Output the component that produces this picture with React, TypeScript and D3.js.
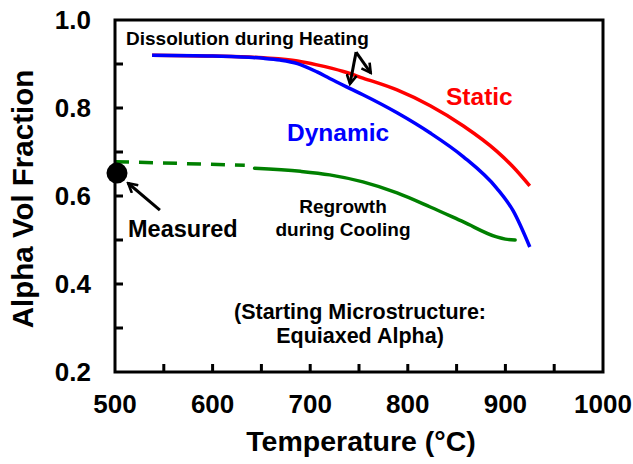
import * as d3 from 'd3';

// curves
const staticTemp = [538, 600, 652, 687, 707, 734, 754, 789, 823, 857, 891, 908, 925];
const staticAlpha = [0.92, 0.918, 0.914, 0.907, 0.898, 0.883, 0.868, 0.841, 0.805, 0.759, 0.702, 0.666, 0.623];

const dynamicTemp = [538, 600, 652, 669, 687, 707, 720, 741, 754, 789, 823, 857, 891, 908, 925];
const dynamicAlpha = [0.92, 0.918, 0.913, 0.909, 0.901, 0.882, 0.867, 0.844, 0.83, 0.789, 0.743, 0.689, 0.618, 0.566, 0.484];

const regrowthTemp = [643, 690, 720, 754, 789, 823, 857, 891, 900, 910];
const regrowthAlpha = [0.663, 0.656, 0.648, 0.632, 0.607, 0.575, 0.541, 0.507, 0.502, 0.5];

const extrapTemp = [500, 633];
const extrapAlpha = [0.678, 0.67];

const measuredTemp = [500];
const measuredAlpha = [0.652];

const xTicks = [500, 600, 700, 800, 900, 1000];
const xMinor = [550, 650, 750, 850, 950];
const yTicks = [0.2, 0.4, 0.6, 0.8, 1.0];
const yMinor = [0.3, 0.5, 0.7, 0.9];

const W = 633;
const H = 464;
const font = "'Liberation Sans', Arial, sans-serif";

type Pt = [number, number];
const zip = (a: number[], b: number[]): Pt[] => a.map((v, i) => [v, b[i]]);

export default function App() {
  const x = d3.scaleLinear().domain([500, 1000]).range([115, 603]);
  const y = d3.scaleLinear().domain([0.2, 1.0]).range([372, 20]);

  const line = d3
    .line<Pt>()
    .x((d) => x(d[0]))
    .y((d) => y(d[1]))
    .curve(d3.curveMonotoneX);

  // annotation arrows in data units: [fromT, fromA, toT, toA]
  const arrows = [
    [546, 0.568, 513.5, 0.629],
    [747, 0.927, 740.8, 0.855],
    [747, 0.927, 762, 0.88],
  ];

  const yTickPos = [...yTicks, ...yMinor].filter((t) => t > 0.2 && t < 1.0);
  const xTickPos = [...xTicks, ...xMinor].filter((t) => t > 500 && t < 1000);

  return (
    <div style={{ position: 'fixed', left: 0, top: 0, width: W, height: H, background: '#fff' }}>
      <svg width={W} height={H} fontFamily={font} fontWeight="bold">
        <defs>
          <marker
            id="head"
            viewBox="0 0 12 12"
            refX="10"
            refY="6"
            markerWidth="12"
            markerHeight="12"
            markerUnits="userSpaceOnUse"
            orient="auto"
          >
            <path d="M1,1 L10,6 L1,11" fill="none" stroke="#000" strokeWidth={2.6} />
          </marker>
        </defs>

        {/* curves */}
        <path d={line(zip(extrapTemp, extrapAlpha)) ?? ''} fill="none" stroke="#008000" strokeWidth={3.5} strokeDasharray="14 10" />
        <path d={line(zip(regrowthTemp, regrowthAlpha)) ?? ''} fill="none" stroke="#008000" strokeWidth={3.5} strokeLinecap="round" />
        <path d={line(zip(staticTemp, staticAlpha)) ?? ''} fill="none" stroke="#ff0000" strokeWidth={3.5} />
        <path d={line(zip(dynamicTemp, dynamicAlpha)) ?? ''} fill="none" stroke="#0000ff" strokeWidth={3.5} />

        {/* frame and inward ticks */}
        <g stroke="#000" strokeWidth={3} fill="none">
          <rect x={x(500)} y={y(1.0)} width={x(1000) - x(500)} height={y(0.2) - y(1.0)} />
        </g>
        <g>
          {yTickPos.map((t) => (
            <rect key={'yt' + t} x={x(500)} y={y(t) - 1.5} width={8} height={3} fill="#000" />
          ))}
          {xTickPos.map((t) => (
            <rect key={'xt' + t} x={x(t) - 1.5} y={y(0.2) - 8} width={3} height={8} fill="#000" />
          ))}
        </g>

        {measuredTemp.map((t, i) => (
          <circle key={'m' + i} cx={x(t) + 2} cy={y(measuredAlpha[i])} r={10.5} fill="#000" />
        ))}

        {arrows.map((a, i) => (
          <line
            key={'ar' + i}
            x1={x(a[0])}
            y1={y(a[1])}
            x2={x(a[2])}
            y2={y(a[3])}
            stroke="#000"
            strokeWidth={3}
            markerEnd="url(#head)"
          />
        ))}

        {/* tick labels */}
        {yTicks.map((t) => (
          <text key={'yl' + t} x={91} y={y(t)} dy="0.36em" textAnchor="end" fontSize={26}>
            {t.toFixed(1)}
          </text>
        ))}
        {xTicks.map((t) => (
          <text key={'xl' + t} x={x(t)} y={413} textAnchor="middle" fontSize={26}>
            {t}
          </text>
        ))}

        {/* axis titles */}
        <text x={361} y={451} textAnchor="middle" fontSize={28.5}>
          Temperature (°C)
        </text>
        <text transform="translate(33,199) rotate(-90)" textAnchor="middle" fontSize={29.5}>
          Alpha Vol Fraction
        </text>

        {/* annotations */}
        <text x={126} y={45} fontSize={19}>
          Dissolution during Heating
        </text>
        <text x={446} y={105} fontSize={24.5} fill="#ff0000">
          Static
        </text>
        <text x={287} y={141} fontSize={24.5} fill="#0000ff">
          Dynamic
        </text>
        <text x={128} y={237} fontSize={23.5}>
          Measured
        </text>
        <text x={343} y={213} textAnchor="middle" fontSize={19}>
          Regrowth
        </text>
        <text x={343} y={236} textAnchor="middle" fontSize={19}>
          during Cooling
        </text>
        <text x={360} y={319} textAnchor="middle" fontSize={21.5}>
          (Starting Microstructure:
        </text>
        <text x={360} y={343} textAnchor="middle" fontSize={21.5}>
          Equiaxed Alpha)
        </text>
      </svg>
    </div>
  );
}
